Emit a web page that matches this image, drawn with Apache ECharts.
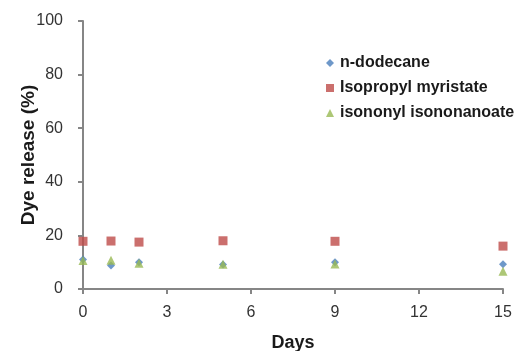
<!DOCTYPE html>
<html>
<head>
<meta charset="utf-8">
<script src="https://cdn.jsdelivr.net/npm/echarts@6/dist/echarts.min.js"></script>
<style>
	html, body { margin: 0; padding: 0; background: #fff; }
	#chart { width: 516px; height: 351px; }
</style>
</head>
<body>
<div id="chart"></div>
<script>
const days = [ 0, 1, 2, 5, 9, 15 ];
const dodecane = [ 11.0, 8.8, 10.0, 9.1, 10.0, 9.2 ];
const myristate = [ 17.8, 17.9, 17.5, 18.0, 17.8, 16.0 ];
const isononanoate = [ 10.6, 10.7, 9.6, 9.2, 9.3, 6.6 ];

const pairs = ( ys ) => days.map( ( d, i ) => [ d, ys[ i ] ] );

const axisGrey = '#868686';
const font = 'Liberation Sans, Arial, sans-serif';

const chart = echarts.init( document.getElementById( 'chart' ) );
chart.setOption( {
	animation: false,
	grid: { left: 83, right: 13, top: 21, bottom: 62, outerBoundsMode: 'none' },
	legend: {
		orient: 'vertical',
		left: 321,
		top: 50,
		itemGap: 9,
		itemWidth: 8,
		itemHeight: 8,
		textStyle: { fontFamily: font, fontWeight: 'bold', fontSize: 16, color: '#1a1a1a', padding: [ 0, 0, 0, 1 ] },
		data: [ 'n-dodecane', 'Isopropyl myristate', 'isononyl isononanoate' ]
	},
	xAxis: {
		type: 'value',
		min: 0,
		max: 15,
		interval: 3,
		name: 'Days',
		nameLocation: 'middle',
		nameGap: 45,
		nameMoveOverlap: false,
		nameTextStyle: { fontFamily: font, fontWeight: 'bold', fontSize: 18, color: '#1a1a1a' },
		axisLine: { lineStyle: { color: axisGrey, width: 2 } },
		axisTick: { show: true, length: 5, lineStyle: { color: axisGrey, width: 2 } },
		axisLabel: { fontFamily: font, fontSize: 16, color: '#333', margin: 16 },
		splitLine: { show: false }
	},
	yAxis: {
		type: 'value',
		min: 0,
		max: 100,
		interval: 20,
		name: 'Dye release (%)',
		nameLocation: 'middle',
		nameGap: 45,
		nameMoveOverlap: false,
		nameTextStyle: { fontFamily: font, fontWeight: 'bold', fontSize: 19, color: '#1a1a1a' },
		axisLine: { show: true, lineStyle: { color: axisGrey, width: 2 } },
		axisTick: { show: true, length: 5, lineStyle: { color: axisGrey, width: 2 } },
		axisLabel: { fontFamily: font, fontSize: 16, color: '#333', margin: 20 },
		splitLine: { show: false }
	},
	series: [
		{
			name: 'n-dodecane',
			type: 'scatter',
			symbol: 'diamond',
			symbolSize: 8,
			itemStyle: { color: '#4a7ebb' },
			data: pairs( dodecane ),
			z: 3
		},
		{
			name: 'Isopropyl myristate',
			type: 'scatter',
			symbol: 'rect',
			symbolSize: 9,
			itemStyle: { color: '#be4b48' },
			data: pairs( myristate ),
			z: 2
		},
		{
			name: 'isononyl isononanoate',
			type: 'scatter',
			symbol: 'triangle',
			symbolSize: 9,
			itemStyle: { color: '#98b954' },
			data: pairs( isononanoate ),
			z: 4
		}
	]
} );
</script>
</body>
</html>
